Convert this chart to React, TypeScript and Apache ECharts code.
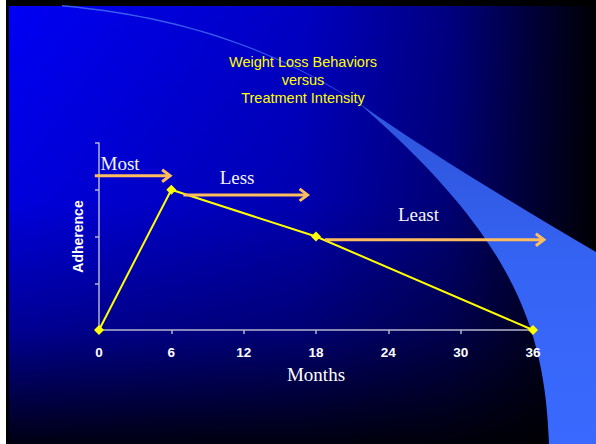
import React, { useEffect, useRef } from "react";
import * as echarts from "echarts";

// Adherence over the course of treatment
const months = [0, 6, 18, 36];
const adherence = [0, 3, 2, 0];

// Treatment-intensity phases drawn as arrows above the curve
const phaseLabels = ["Most", "Less", "Least"];
const phaseStart = [-0.35, 7, 18.75];
const phaseEnd = [5.9, 17.3, 36.9];
const phaseLevel = [3.3, 2.89, 1.93];
const phaseLabelMonth = [1.75, 11.45, 26.5];
const phaseLabelLevel = [3.56, 3.27, 2.46];

const titleLines = ["Weight Loss Behaviors", "versus", "Treatment Intensity"];

const SWOOSH_D =
  "M62 5 C180 16 270 46 360 104 C420 146 500 196 596 252 L596 444 L549 444 " +
  "C545 330 515 240 362 106 C272 48 180 17.5 62 6.5 Z";

let swooshRegistered = false;
function ensureSwoosh() {
  if (swooshRegistered) return;
  echarts.graphic.registerShape("swoosh", echarts.graphic.extendPath(SWOOSH_D, {}));
  swooshRegistered = true;
}

const ARROW_COLOR = "#ffbd5e";

export default function App() {
  const ref = useRef<HTMLDivElement>(null);

  useEffect(() => {
    document.body.style.margin = "0";
    ensureSwoosh();
    const chart = echarts.init(ref.current!, null, { renderer: "svg" });

    const phaseData = phaseLabels.map((_, i) => [
      phaseStart[i],
      phaseEnd[i],
      phaseLevel[i],
      phaseLabelMonth[i],
      phaseLabelLevel[i],
    ]);

    chart.setOption({
      animation: false,
      backgroundColor: "#ffffff",
      graphic: [
        { type: "rect", z: -100, shape: { x: 6, y: 0, width: 590, height: 444 }, style: { fill: "#000000" } },
        {
          type: "rect",
          z: -99,
          shape: { x: 9, y: 6, width: 587, height: 438 },
          style: {
            fill: new echarts.graphic.LinearGradient(0, 0, 1, 0, [
              { offset: 0, color: "#0000f5" },
              { offset: 0.5, color: "#0000c2" },
              { offset: 0.75, color: "#000080" },
              { offset: 0.9, color: "#000035" },
              { offset: 1, color: "#000004" },
            ]),
          },
        },
        {
          type: "rect",
          z: -98,
          shape: { x: 9, y: 6, width: 587, height: 438 },
          style: {
            fill: new echarts.graphic.LinearGradient(0, 0, 0, 1, [
              { offset: 0, color: "rgba(0,0,0,0)" },
              { offset: 0.45, color: "rgba(0,0,0,0.1)" },
              { offset: 0.74, color: "rgba(0,0,0,0.4)" },
              { offset: 1, color: "rgba(0,0,0,0.92)" },
            ]),
          },
        },
        {
          type: "swoosh",
          z: -97,
          x: 0,
          y: 0,
          style: {
            fill: new echarts.graphic.LinearGradient(0, 0, 0, 1, [
              { offset: 0, color: "#3a5cf0" },
              { offset: 0.3, color: "#2f56de" },
              { offset: 0.6, color: "#3564f4" },
              { offset: 1, color: "#3a69ff" },
            ]),
          },
        },
        {
          type: "text",
          z: 10,
          x: 303,
          y: 80,
          style: {
            text: titleLines.join("\n"),
            fill: "#ffff00",
            fontSize: 14.5,
            fontFamily: "Liberation Sans",
            align: "center",
            verticalAlign: "middle",
            lineHeight: 18,
          },
        },
      ],
      grid: { left: 99, right: 63, top: 143, bottom: 114 },
      xAxis: {
        type: "value",
        min: 0,
        max: 36,
        interval: 6,
        name: "Months",
        nameLocation: "middle",
        nameGap: 44,
        nameTextStyle: {
          color: "#ffffff",
          fontFamily: "Liberation Serif",
          fontSize: 19,
          verticalAlign: "middle",
        },
        axisLine: { show: true, lineStyle: { color: "#b4b4cc", width: 1.5 } },
        axisTick: { show: true, inside: false, length: 4, lineStyle: { color: "#b4b4cc", width: 1.5 } },
        axisLabel: {
          color: "#ffffff",
          fontFamily: "Liberation Sans",
          fontWeight: "bold",
          fontSize: 13.5,
          margin: 15,
        },
        splitLine: { show: false },
      },
      yAxis: {
        type: "value",
        min: 0,
        max: 4,
        interval: 1,
        name: "Adherence",
        nameLocation: "middle",
        nameRotate: 90,
        nameGap: 21,
        nameTextStyle: {
          color: "#ffffff",
          fontFamily: "Liberation Sans",
          fontWeight: "bold",
          fontSize: 14,
          verticalAlign: "middle",
        },
        axisLine: { show: true, lineStyle: { color: "#b4b4cc", width: 1.5 } },
        axisTick: { show: true, inside: false, length: 4, lineStyle: { color: "#b4b4cc", width: 1.5 } },
        axisLabel: { show: false },
        splitLine: { show: false },
      },
      series: [
        {
          type: "line",
          z: 3,
          data: months.map((m, i) => [m, adherence[i]]),
          lineStyle: { color: "#ffff00", width: 2 },
          itemStyle: { color: "#ffff00" },
          symbol: "diamond",
          symbolSize: 10,
          clip: false,
        },
        {
          type: "custom",
          z: 4,
          clip: false,
          encode: { x: [0, 1, 3], y: [2, 4] },
          data: phaseData,
          renderItem: (params: any, api: any) => {
            const a = api.coord([api.value(0), api.value(2)]);
            const b = api.coord([api.value(1), api.value(2)]);
            const t = api.coord([api.value(3), api.value(4)]);
            return {
              type: "group",
              children: [
                {
                  type: "line",
                  shape: { x1: a[0], y1: a[1], x2: b[0] - 1, y2: b[1] },
                  style: { stroke: ARROW_COLOR, lineWidth: 3 },
                },
                {
                  type: "polyline",
                  shape: {
                    points: [
                      [b[0] - 8, b[1] - 6],
                      [b[0], b[1]],
                      [b[0] - 8, b[1] + 6],
                    ],
                  },
                  style: { stroke: ARROW_COLOR, lineWidth: 3, fill: "none" },
                },
                {
                  type: "text",
                  x: t[0],
                  y: t[1],
                  style: {
                    text: phaseLabels[params.dataIndex],
                    fill: "#f4f4f4",
                    fontSize: 19,
                    fontFamily: "Liberation Serif",
                    align: "center",
                    verticalAlign: "middle",
                  },
                },
              ],
            };
          },
        },
      ],
    });

    return () => chart.dispose();
  }, []);

  return (
    <div
      ref={ref}
      style={{ position: "absolute", left: 0, top: 0, width: 596, height: 444 }}
    />
  );
}
